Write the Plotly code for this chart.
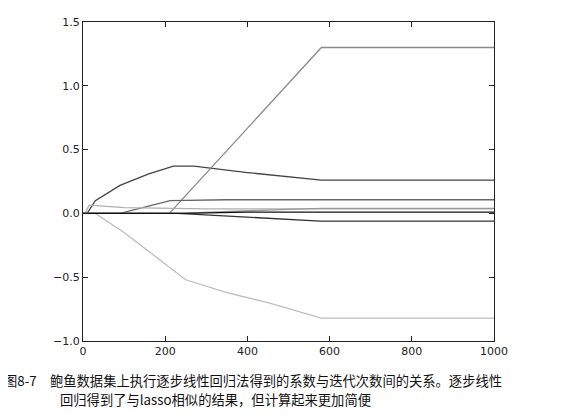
import plotly.graph_objects as go

# coefficient paths (iteration, weight)
iters_a = [0, 10, 30, 90, 160, 220, 270, 400, 580, 1000]
ws_a = [0, 0, 0.1, 0.22, 0.31, 0.37, 0.37, 0.32, 0.26, 0.26]
iters_b = [0, 210, 580, 1000]
ws_b = [0, 0, 1.3, 1.3]
iters_c = [0, 30, 100, 200, 250, 350, 450, 580, 1000]
ws_c = [0, 0, -0.15, -0.4, -0.52, -0.62, -0.7, -0.82, -0.82]
iters_d = [0, 90, 212, 350, 1000]
ws_d = [0, 0, 0.1, 0.107, 0.107]
iters_e = [0, 5, 15, 100, 300, 1000]
ws_e = [0, 0, 0.065, 0.045, 0.035, 0.035]
iters_f = [0, 230, 577, 1000]
ws_f = [0, 0, -0.06, -0.06]
iters_g = [0, 230, 480, 540, 580, 1000]
ws_g = [0, 0, 0.03, 0.035, 0.04, 0.04]
iters_h = [0, 240, 400, 1000]
ws_h = [0, 0, 0.01, 0.01]

caption = ["图8-7　鲍鱼数据集上执行逐步线性回归法得到的系数与迭代次数间的关系。逐步线性",
           "回归得到了与lasso相似的结果，但计算起来更加简便"]

series = [
    (iters_a, ws_a, "#444444"),
    (iters_b, ws_b, "#8a8a8a"),
    (iters_c, ws_c, "#bdbdbd"),
    (iters_d, ws_d, "#666666"),
    (iters_e, ws_e, "#b0b0b0"),
    (iters_f, ws_f, "#333333"),
    (iters_g, ws_g, "#999999"),
    (iters_h, ws_h, "#111111"),
]

fig = go.Figure()
for xs, ys, c in series:
    fig.add_trace(go.Scatter(x=xs, y=ys, mode="lines", line=dict(color=c, width=1.3)))

axis = dict(showgrid=False, zeroline=False, showline=True, linecolor="#222", linewidth=1,
            mirror="ticks", ticks="inside", ticklen=5, tickcolor="#222",
            tickfont=dict(size=11, color="#222", family="DejaVu Sans"))
fig.update_xaxes(range=[0, 1000], tickvals=[0, 200, 400, 600, 800, 1000], **axis)
fig.update_yaxes(range=[-1.0, 1.5], tickvals=[-1.0, -0.5, 0.0, 0.5, 1.0, 1.5],
                 tickformat=".1f", **axis)

cap_font = dict(size=13.3, color="#111", family="Noto Sans CJK SC")
fig.add_annotation(x=0, y=0, xref="paper", yref="paper", xanchor="left", yanchor="middle",
                   xshift=-81, yshift=-39, showarrow=False, text=caption[0], font=cap_font)
fig.add_annotation(x=0, y=0, xref="paper", yref="paper", xanchor="left", yanchor="middle",
                   xshift=-25, yshift=-58, showarrow=False, text=caption[1], font=cap_font)

fig.update_layout(width=569, height=414, margin=dict(l=75, r=83, t=8, b=81),
                  plot_bgcolor="white", paper_bgcolor="white", showlegend=False)
fig.write_html("out.html")
